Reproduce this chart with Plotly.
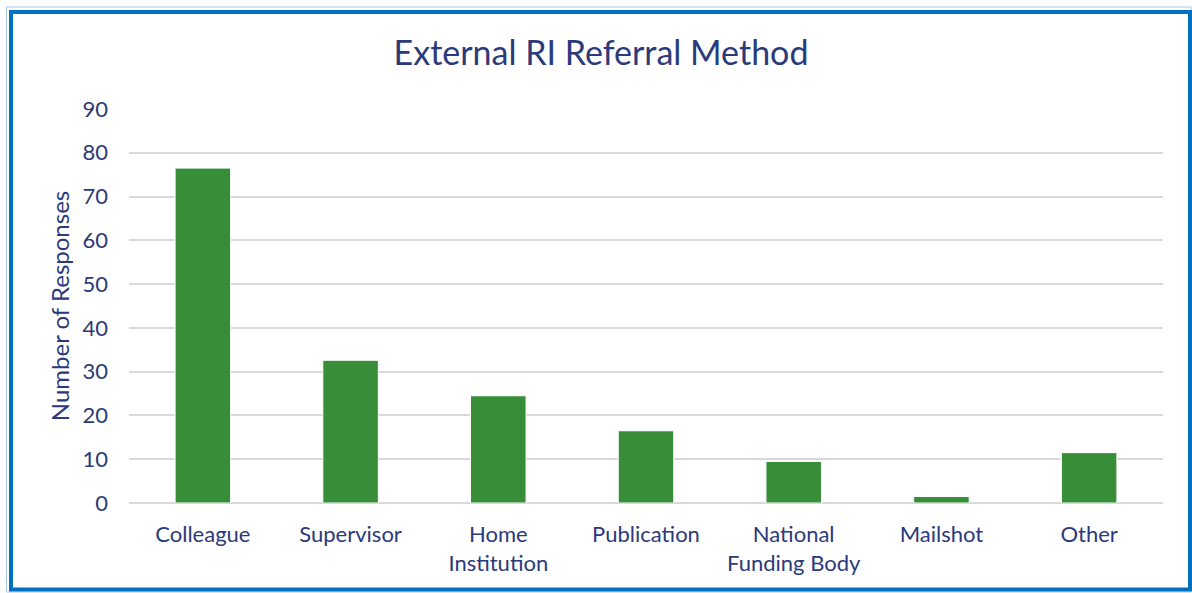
import plotly.graph_objects as go

categories = ["Colleague", "Supervisor", "Home<br>Institution", "Publication",
              "National<br>Funding Body", "Mailshot", "Other"]
responses = [76.5, 32.6, 24.5, 16.5, 9.5, 1.5, 11.5]
y_ticks = [0, 10, 20, 30, 40, 50, 60, 70, 80, 90]

W, H = 1192, 593
L, R, T, B = 129, 29, 109, 90
pw, ph = W - L - R, H - T - B

def px(x):
    return (x - L) / pw

def py(y):
    return (H - B - y) / ph

navy = "#2B3A7A"
font = "Lato"

fig = go.Figure(go.Bar(
    x=categories, y=responses,
    marker=dict(color="#388E38", line=dict(color="white", width=1)),
    width=0.376,
))

fig.update_layout(
    width=W, height=H,
    margin=dict(l=L, r=R, t=T, b=B),
    paper_bgcolor="white", plot_bgcolor="white",
    showlegend=False,
    title=dict(text="External RI Referral Method", x=601 / W, xref="container",
               xanchor="center", y=(H - 53) / H, yanchor="middle",
               font=dict(family=font, size=34, color=navy)),
    font=dict(family=font, color=navy),
)
fig.update_xaxes(showgrid=False, showline=False, ticks="",
                 tickfont=dict(size=22, color=navy), ticklabelstandoff=16)
fig.update_yaxes(range=[0, 90], tickvals=y_ticks, showgrid=True,
                 gridcolor="#D9D9D9", gridwidth=1.5, zeroline=True,
                 zerolinecolor="#D9D9D9", zerolinewidth=1.5,
                 tickfont=dict(size=22, color=navy), ticklabelstandoff=20,
                 title=dict(text="Number of Responses", standoff=6,
                            font=dict(size=24, color=navy)))

# chart frame
fig.add_shape(type="rect", xref="paper", yref="paper",
              x0=px(6.5), x1=px(1191), y0=py(7), y1=py(592),
              line=dict(color="#A9C9E8", width=1), layer="below")
fig.add_shape(type="rect", xref="paper", yref="paper",
              x0=px(11), x1=px(1190), y0=py(12), y1=py(589.5),
              line=dict(color="#0070C0", width=4), layer="below")

fig.write_html("out.html", config={"displayModeBar": False},
               post_script="document.body.style.margin='0';document.body.style.overflow='hidden';")
